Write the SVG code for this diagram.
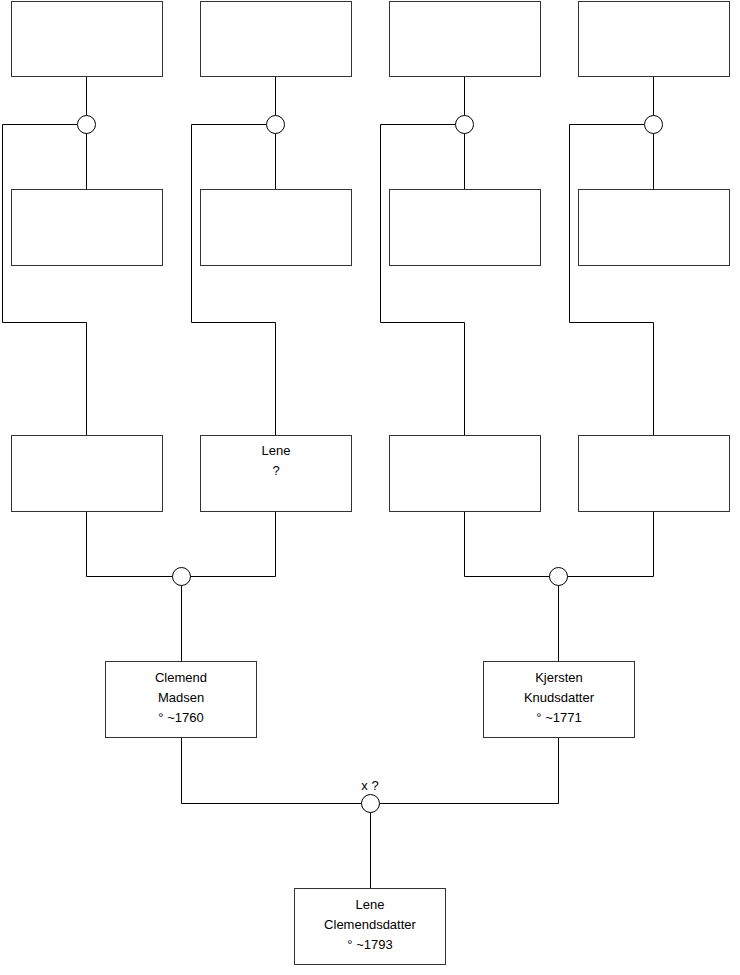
<svg xmlns="http://www.w3.org/2000/svg" width="740" height="975" viewBox="0 0 740 975">
<style>
.box{fill:#fff;stroke:#333;stroke-width:1}
.ln{fill:none;stroke:#000;stroke-width:1}
.ci{fill:#fff;stroke:#000;stroke-width:1}
text{font-family:"Liberation Sans",Arial,sans-serif;font-size:13px;fill:#000;text-anchor:middle}
</style>
<rect width="740" height="975" fill="#fff"/>
<g id="connectors">
<path class="ln" d="M86.5 76.5V189.5M2.5 124.5H77.5M2.5 124.5V322.5H86.5V435.5"/>
<path class="ln" d="M275.5 76.5V189.5M191.5 124.5H266.5M191.5 124.5V322.5H275.5V435.5"/>
<path class="ln" d="M464.5 76.5V189.5M380.5 124.5H455.5M380.5 124.5V322.5H464.5V435.5"/>
<path class="ln" d="M653.5 76.5V189.5M569.5 124.5H644.5M569.5 124.5V322.5H653.5V435.5"/>
<path class="ln" d="M86.5 511.5V576.5H275.5V511.5M181.5 576.5V661.5"/>
<path class="ln" d="M464.5 511.5V576.5H653.5V511.5M558.5 576.5V661.5"/>
<path class="ln" d="M181.5 737.5V803.5H558.5V737.5M370.5 803.5V888.5"/>
</g>
<g id="circles">
<circle class="ci" cx="86.5" cy="124.5" r="9"/>
<circle class="ci" cx="275.5" cy="124.5" r="9"/>
<circle class="ci" cx="464.5" cy="124.5" r="9"/>
<circle class="ci" cx="653.5" cy="124.5" r="9"/>
<circle class="ci" cx="181.5" cy="576.5" r="9"/>
<circle class="ci" cx="558.5" cy="576.5" r="9"/>
<circle class="ci" cx="370.5" cy="803.5" r="9"/>
<text x="370" y="790">x ?</text>
</g>
<g id="r1a"><rect class="box" x="11.5" y="1.5" width="151" height="75"/></g>
<g id="r1b"><rect class="box" x="200.5" y="1.5" width="151" height="75"/></g>
<g id="r1c"><rect class="box" x="389.5" y="1.5" width="151" height="75"/></g>
<g id="r1d"><rect class="box" x="578.5" y="1.5" width="151" height="75"/></g>
<g id="r2a"><rect class="box" x="11.5" y="189.5" width="151" height="76"/></g>
<g id="r2b"><rect class="box" x="200.5" y="189.5" width="151" height="76"/></g>
<g id="r2c"><rect class="box" x="389.5" y="189.5" width="151" height="76"/></g>
<g id="r2d"><rect class="box" x="578.5" y="189.5" width="151" height="76"/></g>
<g id="r3a"><rect class="box" x="11.5" y="435.5" width="151" height="76"/></g>
<g id="r3b"><rect class="box" x="200.5" y="435.5" width="151" height="76"/>
<text x="276" y="455">Lene</text><text x="276" y="475">?</text></g>
<g id="r3c"><rect class="box" x="389.5" y="435.5" width="151" height="76"/></g>
<g id="r3d"><rect class="box" x="578.5" y="435.5" width="151" height="76"/></g>
<g id="clemend"><rect class="box" x="105.5" y="661.5" width="151" height="76"/>
<text x="181" y="682">Clemend</text><text x="181" y="702">Madsen</text><text x="181" y="722">° ~1760</text></g>
<g id="kjersten"><rect class="box" x="483.5" y="661.5" width="151" height="76"/>
<text x="559" y="682">Kjersten</text><text x="559" y="702">Knudsdatter</text><text x="559" y="722">° ~1771</text></g>
<g id="lene"><rect class="box" x="294.5" y="888.5" width="151" height="76"/>
<text x="370" y="909">Lene</text><text x="370" y="929">Clemendsdatter</text><text x="370" y="949">° ~1793</text></g>
</svg>
